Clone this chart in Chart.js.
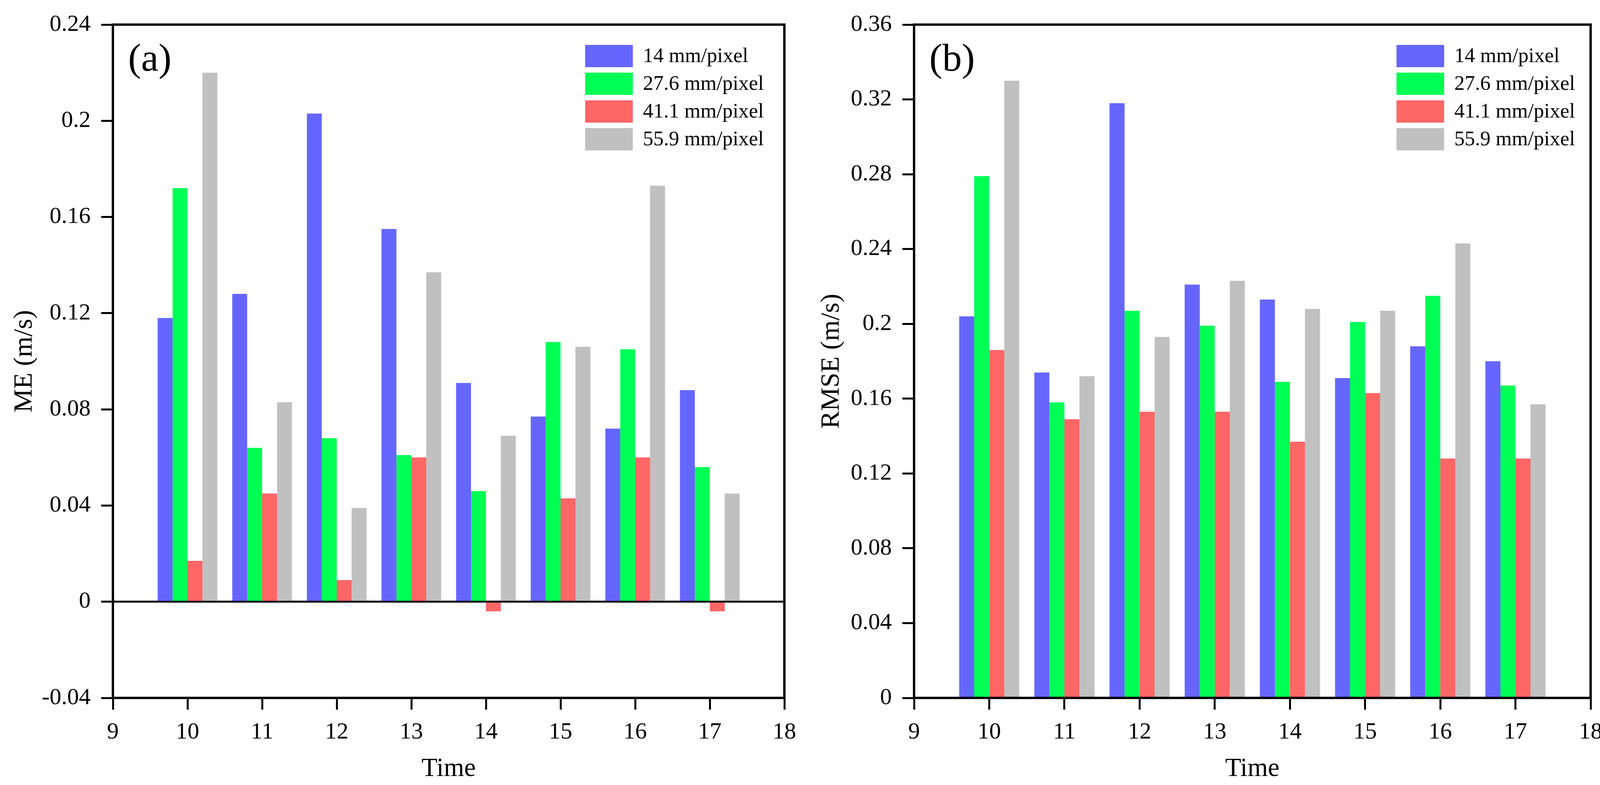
<!DOCTYPE html>
<html>
<head>
<meta charset="utf-8">
<script src="https://cdn.jsdelivr.net/npm/chart.js@4.4.1/dist/chart.umd.min.js"></script>
<style>
    body { margin: 0; background: #fff; }
    #wrap { position: relative; width: 4125px; height: 2010px; }
    canvas { position: absolute; top: 0; }
</style>
</head>
<body>
<div id="wrap">
    <canvas id="meChart" width="2060" height="2010" style="left:0"></canvas>
    <canvas id="rmseChart" width="2065" height="2010" style="left:2060px"></canvas>
</div>
<script>
// DATA
const times = [10, 11, 12, 13, 14, 15, 16, 17];
const seriesNames = ["14 mm/pixel", "27.6 mm/pixel", "41.1 mm/pixel", "55.9 mm/pixel"];

const me14 = [0.118, 0.128, 0.203, 0.155, 0.091, 0.077, 0.072, 0.088];
const me276 = [0.172, 0.064, 0.068, 0.061, 0.046, 0.108, 0.105, 0.056];
const me411 = [0.017, 0.045, 0.009, 0.060, -0.004, 0.043, 0.060, -0.004];
const me559 = [0.220, 0.083, 0.039, 0.137, 0.069, 0.106, 0.173, 0.045];

const rmse14 = [0.204, 0.174, 0.318, 0.221, 0.213, 0.171, 0.188, 0.180];
const rmse276 = [0.279, 0.158, 0.207, 0.199, 0.169, 0.201, 0.215, 0.167];
const rmse411 = [0.186, 0.149, 0.153, 0.153, 0.137, 0.163, 0.128, 0.128];
const rmse559 = [0.330, 0.172, 0.193, 0.223, 0.208, 0.207, 0.243, 0.157];

const xTicks = [9, 10, 11, 12, 13, 14, 15, 16, 17, 18];
const meTicks = [-0.04, 0, 0.04, 0.08, 0.12, 0.16, 0.2, 0.24];
const rmseTicks = [0, 0.04, 0.08, 0.12, 0.16, 0.2, 0.24, 0.28, 0.32, 0.36];

const colors = ["#6666FF", "#00FF55", "#FF6666", "#C0C0C0"];
const FONT = "'Liberation Serif', 'Times New Roman', serif";

Chart.defaults.font.family = FONT;
Chart.defaults.color = "#000";


// PLUGINS
const framePlugin = {
    id: "frame",
    afterDraw(chart) {
        const a = chart.chartArea;
        const ctx = chart.ctx;
        ctx.save();
        ctx.strokeStyle = "#000";
        ctx.lineWidth = 6;
        ctx.strokeRect(a.left, a.top, a.right - a.left, a.bottom - a.top);
        ctx.restore();
    }
};

const boxLegend = {
    id: "boxLegend",
    afterDraw(chart, args, opts) {
        const a = chart.chartArea;
        const ctx = chart.ctx;
        ctx.save();
        ctx.font = "53px " + FONT;
        ctx.textBaseline = "middle";
        ctx.textAlign = "left";
        chart.data.datasets.forEach((ds, i) => {
            let x = a.right - opts.fromRight;
            let y = a.top + 52 + i * 71;
            ctx.fillStyle = ds.backgroundColor;
            ctx.fillRect(x, y, 122, 57);
            ctx.fillStyle = "#000";
            ctx.fillText(ds.label, x + 148, y + 30);
        });
        // panel letter
        ctx.font = "100px " + FONT;
        ctx.fillText(opts.letter, a.left + 39, a.top + 92);
        ctx.restore();
    }
};


// CHART BUILDER
function tickText(v) {
    return String(parseFloat(Number(v).toFixed(2)));
}

function makeChart(id, series, yTicks, yTitle, opts) {
    const datasets = series.map((vals, i) => ({
        label: seriesNames[i],
        data: times.map((t, j) => ({ x: t, y: vals[j] })),
        backgroundColor: colors[i],
        borderWidth: 0,
        categoryPercentage: 0.8,
        barPercentage: 1.0
    }));

    return new Chart(document.getElementById(id), {
        type: "bar",
        data: { datasets: datasets },
        options: {
            responsive: false,
            animation: false,
            devicePixelRatio: 1,
            layout: { padding: { left: 0, right: opts.padRight, top: 53, bottom: 0 } },
            plugins: {
                legend: { display: false },
                tooltip: { enabled: false },
                boxLegend: { fromRight: opts.legendRight, letter: opts.letter }
            },
            scales: {
                x: {
                    type: "linear",
                    min: xTicks[0],
                    max: xTicks[xTicks.length - 1],
                    offset: false,
                    afterBuildTicks: s => { s.ticks = xTicks.map(v => ({ value: v })); },
                    afterFit: s => { s.height = 223; },
                    border: { display: false },
                    grid: {
                        offset: false,
                        drawOnChartArea: false,
                        tickLength: 30,
                        tickWidth: 5,
                        tickColor: "#000"
                    },
                    ticks: {
                        autoSkip: false,
                        maxRotation: 0,
                        padding: 22,
                        font: { size: 60 },
                        callback: v => String(v)
                    },
                    title: {
                        display: true,
                        text: "Time",
                        font: { size: 67 },
                        padding: { top: 16, bottom: 0 }
                    }
                },
                y: {
                    min: yTicks[0],
                    max: yTicks[yTicks.length - 1],
                    z: 1,
                    afterBuildTicks: s => { s.ticks = yTicks.map(v => ({ value: v })); },
                    afterFit: s => { s.width = opts.yWidth; },
                    border: { display: false },
                    grid: {
                        color: c => (c.tick && Math.abs(c.tick.value) < 1e-9) ? "#000" : "rgba(0,0,0,0)",
                        lineWidth: 5,
                        tickLength: 30,
                        tickWidth: 5,
                        tickColor: "#000"
                    },
                    ticks: {
                        padding: 27,
                        font: { size: 60 },
                        callback: v => tickText(v)
                    },
                    title: {
                        display: true,
                        text: yTitle,
                        font: { size: 68 },
                        padding: { top: opts.titlePad, bottom: 0 }
                    }
                }
            }
        },
        plugins: [framePlugin, boxLegend]
    });
}

makeChart("meChart", [me14, me276, me411, me559], meTicks, "ME (m/s)",
    { padRight: 38, yWidth: 289, titlePad: 22, legendRight: 510, letter: "(a)" });

makeChart("rmseChart", [rmse14, rmse276, rmse411, rmse559], rmseTicks, "RMSE (m/s)",
    { padRight: 53, yWidth: 280, titlePad: 28, legendRight: 497, letter: "(b)" });
</script>
</body>
</html>
